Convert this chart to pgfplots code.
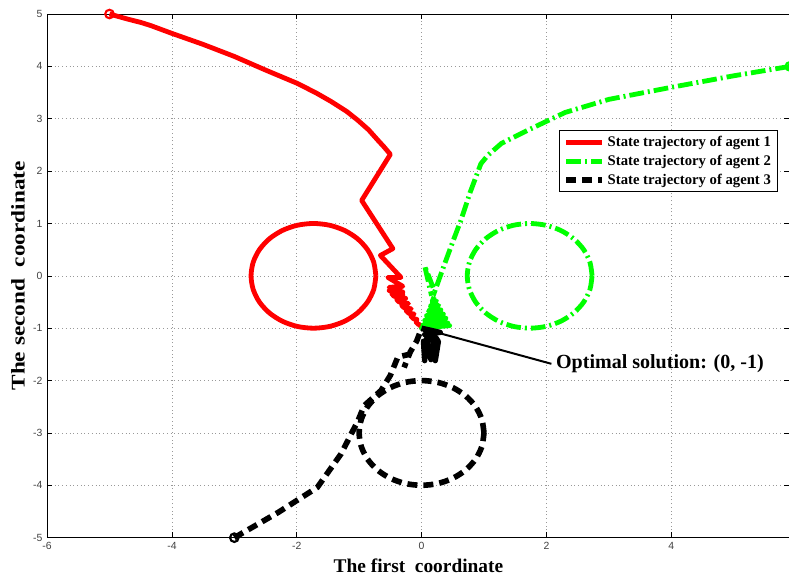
\documentclass[border=0pt]{standalone}
\usepackage{fontspec}
\setmainfont{Liberation Serif}
\setsansfont{Liberation Sans}
\usepackage{pgfplots}
\pgfplotsset{compat=1.18}
\definecolor{mgreen}{RGB}{0,255,0}

\begin{document}
\begin{tikzpicture}
\begin{axis}[
  scale only axis, width=556pt, height=392pt,
  xmin=-6, xmax=5.9, ymin=-5, ymax=5,
  xtick={-6,-4,...,4}, ytick={-5,-4,...,5},
  clip=false,
  grid=major,
  major grid style={gray!80, line width=0.5pt, dash pattern=on 0.6pt off 2.2pt},
  axis line style={line width=0.6pt},
  tick align=inside, major tick length=4pt,
  tick style={black, line width=0.5pt},
  ticklabel style={font=\sffamily\fontsize{7.8}{9}\selectfont, text=black!75},
  /pgf/number format/assume math mode=true,
  xlabel={The first\ \ coordinate},
  ylabel={\scalebox{1.2}[1]{The second\ \ coordinate}},
  label style={font=\bfseries\fontsize{14.5}{17}\selectfont},
  xlabel style={at={(axis description cs:0.5,-0.0546)}, anchor=center},
  ylabel style={at={(axis description cs:-0.039,0.5)}, anchor=center},
  legend style={at={(axis description cs:0.984,0.778)}, anchor=north east,
    font=\bfseries\fontsize{11}{13}\selectfont, draw=black, line width=0.5pt,
    inner xsep=3pt, inner ysep=2pt, row sep=1pt},
  legend cell align=left,
  legend image code/.code={\draw[#1] (0pt,0pt) -- (27pt,0pt);},
]
% agent 1
\addplot[red, line width=3.6pt, line join=round] coordinates {
  (-5,5) (-4.7,4.9) (-4.5,4.84) (-4.34,4.78) (-4.0,4.63) (-3.5,4.42)
  (-3.0,4.19) (-2.5,3.93) (-2.0,3.68) (-1.7,3.50) (-1.45,3.33)
  (-1.2,3.14) (-1.02,2.97) (-0.85,2.79) (-0.70,2.59) (-0.60,2.46) (-0.50,2.32)
  (-0.96,1.44) (-0.46,0.52) (-0.66,0.39) (-0.33,-0.03) (-0.54,-0.03)
  (-0.30,-0.20) (-0.52,-0.22) (-0.30,-0.31) (-0.52,-0.28)
  (-0.30,-0.36) (-0.48,-0.34) (-0.44,-0.39) (-0.255,-0.43) (-0.40,-0.45)
  (-0.364,-0.496) (-0.21,-0.53) (-0.32,-0.56)
  (-0.286,-0.604) (-0.165,-0.63) (-0.25,-0.66) (-0.208,-0.712) (-0.12,-0.73)
  (-0.17,-0.77) (-0.13,-0.82) (-0.075,-0.83) (-0.09,-0.88)
  (-0.052,-0.928) (-0.03,-0.93) (0,-1)
};
\addlegendentry{State trajectory of agent 1}
% agent 2
\addplot[mgreen, line width=3.6pt, dash pattern=on 11pt off 3pt on 1.5pt off 3pt] coordinates {
  (5.9,4.0) (5.0,3.82) (4.0,3.60) (3.0,3.37) (2.3,3.12) (1.70,2.78)
  (1.28,2.53) (1.06,2.30) (0.95,2.14) (0.78,1.6) (0.63,1.06) (0.50,0.65)
  (0.37,0.23) (0.21,-0.30) (0.05,0.19) (0.16,-0.38)
};
\addlegendentry{State trajectory of agent 2}
% agent 3
\addplot[black, line width=4.2pt, dash pattern=on 7.5pt off 4.5pt] coordinates {
  (-3,-5) (-2.3,-4.52) (-1.67,-4.04) (-1.29,-3.40) (-1.02,-2.77)
  (-0.92,-2.48) (-0.65,-2.19) (-0.5,-1.9) (-0.38,-1.55) (-0.2,-1.5)
  (-0.28,-1.75) (-0.18,-1.45) (-0.08,-1.25) (0,-1.0)
};
\addlegendentry{State trajectory of agent 3}

% circles
\addplot[red, line width=3.6pt, smooth, forget plot] coordinates {
  (-0.732,0) (-0.766,0.259) (-0.866,0.5) (-1.025,0.707) (-1.232,0.866)
  (-1.473,0.966) (-1.732,1) (-1.991,0.966) (-2.232,0.866) (-2.439,0.707)
  (-2.598,0.5) (-2.698,0.259) (-2.732,0) (-2.698,-0.259) (-2.598,-0.5)
  (-2.439,-0.707) (-2.232,-0.866) (-1.991,-0.966) (-1.732,-1) (-1.473,-0.966)
  (-1.232,-0.866) (-1.025,-0.707) (-0.866,-0.5) (-0.766,-0.259) (-0.732,0)
};
\addplot[mgreen, line width=3.6pt, smooth, dash pattern=on 11pt off 3pt on 1.5pt off 3pt, forget plot] coordinates {
  (2.732,0) (2.698,0.259) (2.598,0.5) (2.439,0.707) (2.232,0.866)
  (1.991,0.966) (1.732,1) (1.473,0.966) (1.232,0.866) (1.025,0.707)
  (0.866,0.5) (0.766,0.259) (0.732,0) (0.766,-0.259) (0.866,-0.5)
  (1.025,-0.707) (1.232,-0.866) (1.473,-0.966) (1.732,-1) (1.991,-0.966)
  (2.232,-0.866) (2.439,-0.707) (2.598,-0.5) (2.698,-0.259) (2.732,0)
};
\addplot[black, line width=4.2pt, smooth, dash pattern=on 7.5pt off 4.5pt, forget plot] coordinates {
  (1,-3) (0.966,-2.741) (0.866,-2.5) (0.707,-2.293) (0.5,-2.134)
  (0.259,-2.034) (0,-2) (-0.259,-2.034) (-0.5,-2.134) (-0.707,-2.293)
  (-0.866,-2.5) (-0.966,-2.741) (-1,-3) (-0.966,-3.259) (-0.866,-3.5)
  (-0.707,-3.707) (-0.5,-3.866) (-0.259,-3.966) (0,-4) (0.259,-3.966)
  (0.5,-3.866) (0.707,-3.707) (0.866,-3.5) (0.966,-3.259) (1,-3)
};

% dense oscillation near the optimum
\addplot[mgreen, line width=3.6pt, line join=round, forget plot] coordinates {
  (0.2,-0.4) (0.17,-0.49) (0.24,-0.48) (0.14,-0.58) (0.275,-0.565)
  (0.11,-0.67) (0.31,-0.65) (0.08,-0.76) (0.35,-0.73) (0.05,-0.85)
  (0.39,-0.81) (0.02,-0.94) (0.42,-0.9) (0,-1) (0.45,-0.95) (0,-1)
};
\addplot[black, line width=4pt, line join=round, forget plot] coordinates {
  (0,-1) (0.3,-1.08) (0.05,-1.12) (0.25,-1.2) (0.03,-1.25) (0.05,-1.62)
  (0.08,-1.2) (0.15,-1.6) (0.2,-1.2) (0.22,-1.62) (0.27,-1.25)
  (0.1,-1.05) (0,-1)
};

% start points
\addplot[only marks, mark=o, mark size=3.2pt, red, line width=1.6pt, forget plot] coordinates {(-5,5)};
\addplot[only marks, mark=o, mark size=3.2pt, mgreen, line width=1.6pt, forget plot] coordinates {(5.9,4)};
\addplot[only marks, mark=o, mark size=3.2pt, black, line width=1.6pt, forget plot] coordinates {(-3,-5)};

\draw[line width=1.5pt] (axis cs:0.15,-1.05) -- (axis cs:2.08,-1.68);
\node[anchor=west, font=\bfseries\fontsize{15}{18}\selectfont] at (axis cs:2.08,-1.68) {Optimal solution: (0, -1)};
\end{axis}
\pgfresetboundingbox
\path[use as bounding box] ([xshift=-35.25pt,yshift=-31pt]current axis.south west)
  rectangle ([xshift=-0.6pt,yshift=10.5pt]current axis.north east);
\end{tikzpicture}
\end{document}
